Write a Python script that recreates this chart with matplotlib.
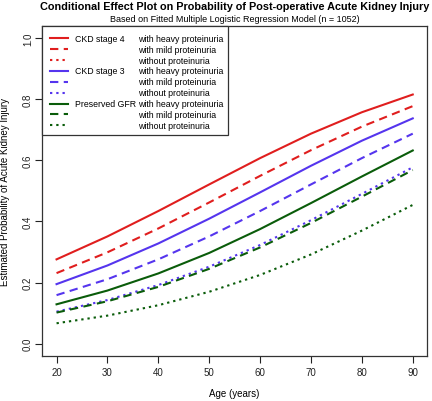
import matplotlib
matplotlib.use("Agg")
import matplotlib.pyplot as plt
from matplotlib.patches import Rectangle

plt.rcParams['font.family'] = ['Liberation Sans', 'DejaVu Sans']

age = [20, 30, 40, 50, 60, 70, 80, 90]

# estimated probability of AKI
ckd4_heavy = [0.276, 0.351, 0.434, 0.521, 0.607, 0.687, 0.757, 0.815]
ckd4_mild = [0.231, 0.299, 0.377, 0.462, 0.549, 0.633, 0.710, 0.777]
ckd3_heavy = [0.195, 0.256, 0.328, 0.409, 0.495, 0.582, 0.664, 0.737]
ckd3_mild = [0.159, 0.211, 0.276, 0.351, 0.434, 0.521, 0.607, 0.687]
ckd3_none = [0.105, 0.143, 0.192, 0.252, 0.323, 0.404, 0.490, 0.577]
pg_heavy = [0.129, 0.174, 0.230, 0.297, 0.375, 0.460, 0.547, 0.632]
pg_mild = [0.102, 0.139, 0.186, 0.245, 0.315, 0.395, 0.481, 0.568]
pg_none = [0.067, 0.092, 0.126, 0.170, 0.225, 0.292, 0.370, 0.454]

groups = ["CKD stage 4", "CKD stage 3", "Preserved GFR"]
levels = ["with heavy proteinuria", "with mild proteinuria", "without proteinuria"]

red = '#e01e1e'
blue = '#5535ee'
green = '#0a5c0a'
colors = [red, blue, green]
styles = ['-', (0, (4, 2.6)), (0, (1.1, 1.9))]

fig = plt.figure(figsize=(4.32, 4.02), dpi=100)
ax = fig.add_axes([42.3 / 432, 45 / 402, 384.7 / 432, 330.3 / 402])

# curves shown in the reference (CKD4 without proteinuria is not drawn there)
series = [
    (ckd4_heavy, red, styles[0]), (ckd4_mild, red, styles[1]),
    (ckd3_heavy, blue, styles[0]), (ckd3_mild, blue, styles[1]), (ckd3_none, blue, styles[2]),
    (pg_heavy, green, styles[0]), (pg_mild, green, styles[1]), (pg_none, green, styles[2]),
]
for vals, c, ls in series:
    ax.plot(age, vals, color=c, linestyle=ls, lw=1.5)

ax.set_xlim(17.2, 92.8)
ax.set_ylim(-0.04, 1.04)
ax.set_xticks(range(20, 91, 10))
ax.set_yticks([0.0, 0.2, 0.4, 0.6, 0.8, 1.0])
ax.set_yticklabels(['0.0', '0.2', '0.4', '0.6', '0.8', '1.0'], rotation=90, va='center')
ax.tick_params(direction='out', length=4.7, width=0.8, labelsize=7, colors='#222222', pad=3)
ax.tick_params(axis='y', pad=2)
for s in ax.spines.values():
    s.set_linewidth(0.9)
    s.set_color('#333333')

ax.set_xlabel('Age (years)', fontsize=7, labelpad=8.5)
ax.set_ylabel('Estimated Probability of Acute Kidney Injury', fontsize=7, labelpad=9)

cx = (42.3 + 384.7 / 2) / 432
t1 = fig.text(cx, 1 - 6.5 / 402,
              'Conditional Effect Plot on Probability of Post-operative Acute Kidney Injury',
              ha='center', va='center', fontsize=8, fontweight='bold')
t2 = fig.text(cx, 1 - 19.5 / 402,
              'Based on Fitted Multiple Logistic Regression Model (n = 1052)',
              ha='center', va='center', fontsize=6.5)

# shrink the two headings to the widths they have in the reference
r = fig.canvas.get_renderer()
for t, target in [(t1, 392), (t2, 248)]:
    w = t.get_window_extent(r).width
    t.set_fontsize(t.get_fontsize() * target / w)

# legend, drawn by hand to get the three columns
W, H = 384.7, 330.3
def ax_x(px):
    return (px - 42.3) / W
def ax_y(py):
    return (357 - py) / H

ax.add_patch(Rectangle((0, ax_y(136)), ax_x(228), 1 - ax_y(136), transform=ax.transAxes,
                       facecolor='white', edgecolor='#333333', lw=0.9, clip_on=False, zorder=3))
row = 0
for g, c in zip(groups, colors):
    for k, (lev, ls) in enumerate(zip(levels, styles)):
        y = ax_y(39.3 + row * 10.87)
        ax.plot([ax_x(50), ax_x(68)], [y, y], color=c, linestyle=ls, lw=1.5,
                transform=ax.transAxes, zorder=4)
        if k == 0:
            ax.text(ax_x(75), y, g, transform=ax.transAxes, fontsize=6.3, va='center', zorder=4)
        ax.text(ax_x(138), y, lev, transform=ax.transAxes, fontsize=6.3, va='center', zorder=4)
        row += 1

fig.savefig('out.png', dpi=100)
